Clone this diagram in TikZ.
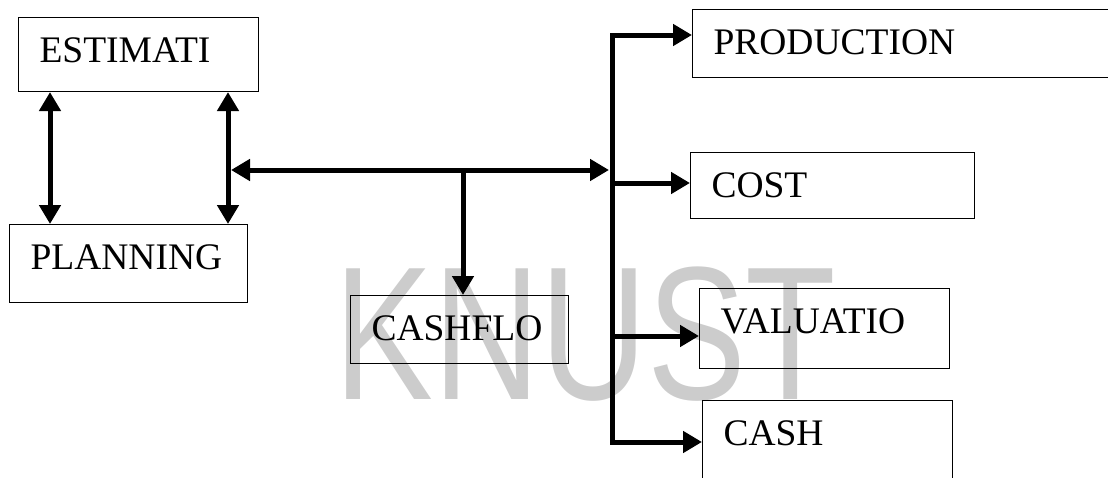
\documentclass[tikz,border=0pt]{standalone}
\usepackage{fontspec}
\setmainfont{Liberation Serif}
\newfontfamily\wmfont{Liberation Sans}
\usetikzlibrary{arrows.meta}
\begin{document}
\begin{tikzpicture}[x=1pt,y=-1pt,
  box/.style={draw, line width=1.1pt, anchor=north west, inner xsep=21pt, inner ysep=0pt,
    text height=45pt, align=left, font=\fontsize{37.5}{40}\selectfont},
  conn/.style={line width=5pt, line join=miter},
  sng/.style={-{Triangle[length=19pt,width=21pt]}},
  dbl/.style={{Triangle[length=19pt,width=21pt]}-{Triangle[length=19pt,width=21pt]}},
  wm/.style={anchor=north west, inner sep=0pt, text=black!20, font=\wmfont\fontsize{190}{192}\selectfont}
]
\useasboundingbox (0,0) rectangle (1108,477);
\clip (0,0) rectangle (1108,477);
\node[wm] (mark) at (334,267) {\scalebox{0.78}[1]{KNUST}};

\node[box, text width=198pt, text depth=29pt] (est) at (18,17) {ESTIMATI};
\node[box, text width=196pt, text depth=33pt] (plan) at (9,224) {PLANNING};
\node[box, text width=176pt, text depth=23pt] (cflo) at (350,295) {CASHFLO};
\node[box, text width=378pt, text depth=23pt] (prod) at (692,9) {PRODUCTION};
\node[box, text width=242pt, text depth=21pt] (cost) at (690,152) {COST};
\node[box, text width=208pt, text depth=35pt] (val) at (699,288) {VALUATIO};
\node[box, text width=208pt, text depth=55pt] (cash) at (702,400) {CASH};

\coordinate (jl) at (231,170);
\coordinate (jr) at (609,170);
\coordinate (jm) at (463,170);
\coordinate (bt) at (612,35);
\coordinate (bb) at (612,442);
\coordinate (bc) at (612,183);
\coordinate (bv) at (612,336);

\draw[conn,dbl] ([xshift=32pt]est.south west) -- ([xshift=41pt]plan.north west);
\draw[conn,dbl] ([xshift=210pt]est.south west) -- ([xshift=219pt]plan.north west);
\draw[conn,dbl] (jl) -- (jr);
\draw[conn,sng] (jm) -- (jm |- cflo.north);
\draw[conn,dbl] (bt -| prod.west) -- (bt) -- (bb) -- (bb -| cash.west);
\draw[conn,sng] (bc) -- (bc -| cost.west);
\draw[conn,sng] (bv) -- (bv -| val.west);
\end{tikzpicture}
\end{document}
